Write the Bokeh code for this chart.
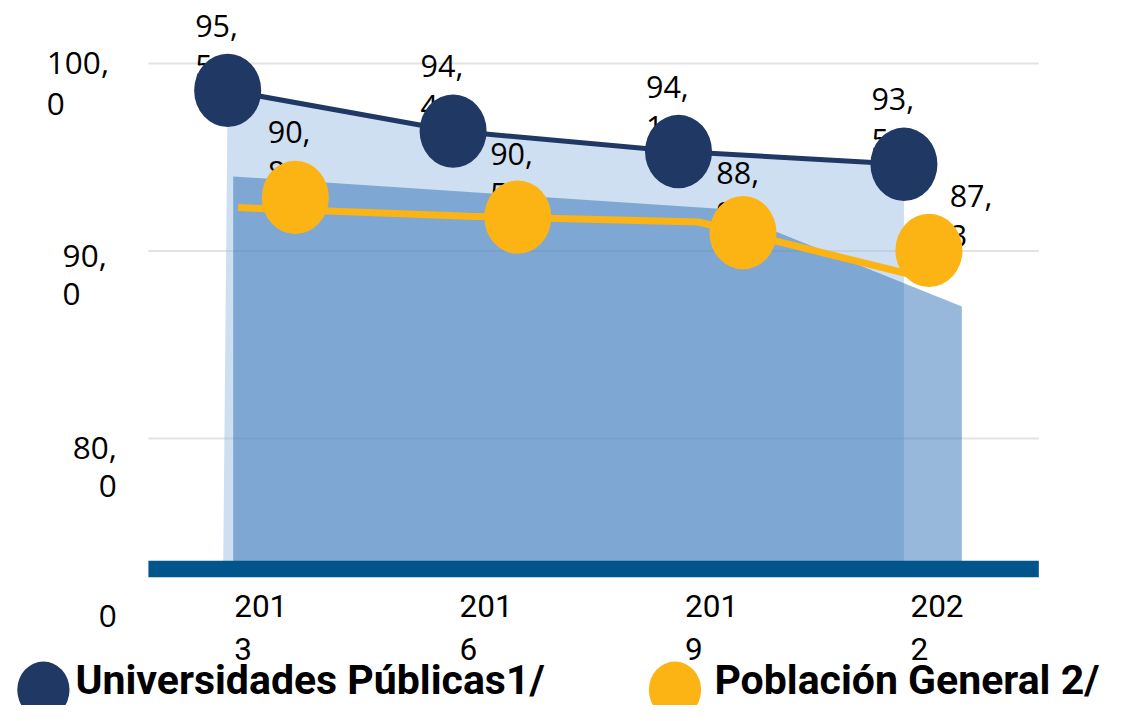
from bokeh.plotting import figure
from bokeh.models import Range1d, ColumnDataSource
from bokeh.core.properties import value
from bokeh.embed import file_html
from bokeh.resources import INLINE

# ---------------- data ----------------
years = ["2013", "2016", "2019", "2022"]
year_line1 = ["201", "201", "201", "202"]
year_line2 = ["3", "6", "9", "2"]
univ_label = ["95,5", "94,4", "94,1", "93,5"]
pob_label = ["90,8", "90,5", "88,9", "87,3"]
# values as drawn on the picture's own y scale
univ_drawn = [98.57, 96.40, 95.31, 94.63]      # navy markers / line / light area
pob_drawn = [92.86, 91.81, 90.98, 90.04]       # yellow markers
pob_line = [92.32, 91.86, 91.55, 88.51]        # yellow line
band = [93.98, 93.12, 92.26, 87.04]            # mid-blue area
ytick_values = [100, 90, 80]
ytick_labels = ["100,0", "90,0", "80,0"]
zero_label = "0"
axis_floor = 73.04
legend_names = ["Universidades Públicas1/", "Población General 2/"]

# ---------------- colours / layout ----------------
NAVY = "#203864"
YELLOW = "#FCB414"
LIGHT = "#9BBFE1"
MID = "#2F71B5"
BAR = "#02558A"

W, H = 1132, 705
REF_W, REF_H = 1148, 721
SX, SY = W / REF_W, H / REF_H
X0, XS = 264.0, 228.6      # design px of category 0, px per category
Y100, YS = 64.5, 19.175    # design px of value 100, px per unit


def px_x(px):
    return (px - X0) / XS


def px_y(py):
    return 100 - (py - Y100) / YS


def ox(v):
    return v * SX


def oy(v, fs=0.0):
    # screen offset, with a correction for where the alphabetic baseline lands
    return v * SY - 0.36 * fs


p = figure(width=W, height=H, output_backend="svg", toolbar_location=None,
           x_axis_location=None, y_axis_location=None, min_border=0,
           x_range=Range1d(px_x(0), px_x(REF_W)), y_range=Range1d(px_y(REF_H), px_y(0)),
           outline_line_color=None, background_fill_color="white",
           border_fill_color="white")
p.grid.visible = False
for g in p.grid:
    g.grid_line_color = None

idx = list(range(len(years)))
plot_left, plot_right = px_x(150), px_x(1053)

# gridlines
p.segment(x0=[plot_left] * 3, x1=[plot_right] * 3, y0=ytick_values, y1=ytick_values,
          line_color="#E3E3E3", line_width=2)

# areas
navy_x = [i - 0.147 for i in idx]
p.patch(navy_x + [navy_x[-1], navy_x[0] - 0.02], univ_drawn + [axis_floor, axis_floor],
        fill_color=LIGHT, fill_alpha=0.5, line_color=None)
band_x = [-0.1225 + 1.0775 * i for i in idx]
p.patch(band_x + [band_x[-1], band_x[0]], band + [axis_floor, axis_floor],
        fill_color=MID, fill_alpha=0.5, line_color=None)

# lines
p.line(navy_x, univ_drawn, line_color=NAVY, line_width=5)
pl_x = [-0.1006 + 1.0214 * i for i in idx]
p.line(pl_x, pob_line, line_color=YELLOW, line_width=7)

FS_L = 30.5
LBL = dict(text_font=value("Open Sans"), text_font_size=f"{FS_L}px", text_color="#000000",
           text_baseline="alphabetic", text_align="left")

# navy labels
nsrc = ColumnDataSource(dict(x=navy_x, y=univ_drawn,
                             t1=[s.split(",")[0] + "," for s in univ_label],
                             t2=[s.split(",")[1] for s in univ_label]))
p.text(x="x", y="y", text="t1", source=nsrc, x_offset=ox(-33), y_offset=oy(-55, FS_L), **LBL)
p.text(x="x", y="y", text="t2", source=nsrc, x_offset=ox(-33), y_offset=oy(-14, FS_L), **LBL)

# yellow labels
pob_dx = [0.153, 0.140, 0.139, -0.036]
pob_x = [i + d for i, d in zip(idx, pob_dx)]
ysrc = ColumnDataSource(dict(x=pob_x, y=pob_drawn,
                             t1=[s.split(",")[0] + "," for s in pob_label],
                             t2=[s.split(",")[1] for s in pob_label],
                             dx=[ox(v) for v in [-28, -28, -27, 21]],
                             dy1=[oy(v, FS_L) for v in [-56, -53, -50, -44]],
                             dy2=[oy(v, FS_L) for v in [-15, -12, -9, -3]]))
p.text(x="x", y="y", text="t1", source=ysrc, x_offset="dx", y_offset="dy1", **LBL)
p.text(x="x", y="y", text="t2", source=ysrc, x_offset="dx", y_offset="dy2", **LBL)

# markers
p.ellipse(navy_x, univ_drawn, width=ox(68), height=oy(75), width_units="screen",
          height_units="screen", fill_color=NAVY, line_color=None)
p.ellipse(pob_x, pob_drawn, width=ox(68), height=oy(75), width_units="screen",
          height_units="screen", fill_color=YELLOW, line_color=None)

# base bar
p.segment(x0=[plot_left], x1=[plot_right], y0=[axis_floor], y1=[axis_floor],
          line_color=BAR, line_width=oy(17))

# y labels
FS_A = 31.5
AX = dict(text_font=value("Open Sans"), text_font_size=f"{FS_A}px", text_color="#000000",
          text_baseline="alphabetic")
ytsrc = ColumnDataSource(dict(x=[plot_left] * 3, y=ytick_values,
                              t1=[s.split(",")[0] + "," for s in ytick_labels],
                              t2=[s.split(",")[1] for s in ytick_labels],
                              dx=[ox(v) for v in [-103, -87, -32]],
                              al=["left", "left", "right"],
                              dy1=[oy(v, FS_A) for v in [11.5, 16.75, 21]],
                              dy2=[oy(v, FS_A) for v in [52.5, 55.75, 60]]))
p.text(x="x", y="y", text="t1", source=ytsrc, x_offset="dx", y_offset="dy1", text_align="al", **AX)
p.text(x="x", y="y", text="t2", source=ytsrc, x_offset="dx", y_offset="dy2", text_align="al", **AX)
p.text(x=[plot_left], y=[axis_floor], text=[zero_label], x_offset=ox(-32),
       y_offset=oy(59.5, FS_A), text_align="right", **AX)

# x labels
FS_X = 31.5
XL = dict(text_font=value("Roboto"), text_font_size=f"{FS_X}px", text_color="#000000",
          text_baseline="alphabetic", text_align="left")
p.text(x=idx, y=[axis_floor] * 4, text=year_line1, x_offset=ox(-27), y_offset=oy(49.5, FS_X), **XL)
p.text(x=idx, y=[axis_floor] * 4, text=year_line2, x_offset=ox(-27), y_offset=oy(93.5, FS_X), **XL)

# legend
FS_G = 41
leg_y = px_y(705)
p.ellipse([px_x(43.5), px_x(684)], [leg_y, leg_y], width=ox(53), height=oy(58),
          width_units="screen", height_units="screen",
          fill_color=[NAVY, YELLOW], line_color=None)
p.text(x=[px_x(76), px_x(724)], y=[px_y(713)] * 2, text=legend_names,
       y_offset=oy(-3, FS_G),
       text_font=value("Roboto"), text_font_style="bold", text_font_size=f"{FS_G}px",
       text_color="#000000", text_baseline="alphabetic", text_align="left")

open("out.html", "w").write(file_html(p, INLINE))
